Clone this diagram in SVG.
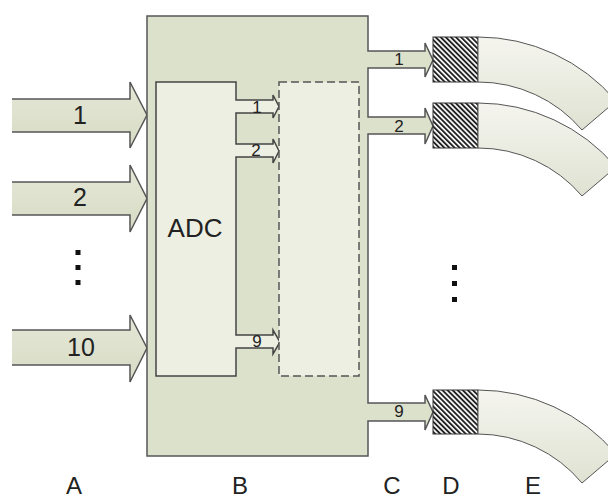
<svg xmlns="http://www.w3.org/2000/svg" width="608" height="499" viewBox="0 0 608 499">
<style>
text{font-family:"Liberation Sans",Arial,sans-serif;fill:#222;text-anchor:middle}
.ln{fill:none;stroke:#555;stroke-width:1.5;stroke-linejoin:miter}
.big{font-size:25px}
.lab{font-size:24px}
.sm{font-size:17px}
.fib{fill:url(#gF);stroke:#555;stroke-width:1}
.hat{fill:url(#hatch);stroke:#333;stroke-width:1}
.dot{fill:#111}
</style>
<defs>
<linearGradient id="gIn" x1="0" y1="0" x2="0" y2="1">
<stop offset="0" stop-color="#e4e7d6"/><stop offset="1" stop-color="#d7dcc5"/>
</linearGradient>
<linearGradient id="gF" x1="0" y1="0" x2="0" y2="1">
<stop offset="0" stop-color="#f5f5ef"/><stop offset="1" stop-color="#dfe2d2"/>
</linearGradient>
<pattern id="hatch" width="3.6" height="3.6" patternUnits="userSpaceOnUse" patternTransform="rotate(-45)">
<rect width="3.6" height="3.6" fill="#fff"/><rect width="1.9" height="3.6" fill="#222"/>
</pattern>
</defs>

<g id="connectors">
<g id="in1">
<path d="M12,99 H130 V82 L147,115 L130,148 V132 H12 Z" fill="url(#gIn)"/>
<path class="ln" d="M12,99 H130 V82 L147,115 L130,148 V132 H12"/>
<text class="big" x="80" y="124">1</text>
</g>
<g id="in2">
<path d="M12,182 H130 V165 L147,198.5 L130,232 V215 H12 Z" fill="url(#gIn)"/>
<path class="ln" d="M12,182 H130 V165 L147,198.5 L130,232 V215 H12"/>
<text class="big" x="80" y="206">2</text>
</g>
<g id="in10">
<path d="M12,330 H130 V315 L147,348 L130,382 V365 H12 Z" fill="url(#gIn)"/>
<path class="ln" d="M12,330 H130 V315 L147,348 L130,382 V365 H12"/>
<text class="big" x="81" y="356">10</text>
</g>
</g>

<g id="dotsA">
<rect class="dot" x="75.5" y="250" width="5" height="5"/>
<rect class="dot" x="75.5" y="265" width="5" height="5"/>
<rect class="dot" x="75.5" y="280" width="5" height="5"/>
</g>

<g id="B">
<path d="M147,16 H368 V51 H425 V43 L433,60 L425,77 V68 H368 V117 H425 V108 L433,126 L425,144 V134 H368 V403 H425 V395 L433,412 L425,430 V421 H368 V456 H147 Z" fill="#dce1cc" stroke="#555" stroke-width="1.5"/>
<text class="sm" x="399" y="65">1</text>
<text class="sm" x="399" y="132">2</text>
<text class="sm" x="399" y="417">9</text>
</g>

<g id="ADC">
<path d="M156,82 H236 V100 H273 V95 L279,106.5 L273,118 V113 H236 V144 H273 V139 L279,151 L273,163 V157 H236 V335 H273 V330 L280,342 L273,354 V348 H236 V376 H156 Z" fill="#eeefe3" stroke="#444" stroke-width="1.5"/>
<text x="195" y="237" style="font-size:26px">ADC</text>
<text class="sm" x="257" y="113">1</text>
<text class="sm" x="256" y="156">2</text>
<text class="sm" x="257" y="347">9</text>
</g>

<g id="C">
<rect x="279" y="82" width="80" height="294" fill="#eeefe3" stroke="#555" stroke-width="1.5" stroke-dasharray="8,4"/>
</g>

<g id="D">
<rect class="hat" x="433" y="37" width="45" height="45"/>
<rect class="hat" x="433" y="103" width="45" height="45"/>
<rect class="hat" x="433" y="390" width="45" height="44"/>
</g>

<g id="E">
<path class="fib" d="M478,37 A181.7,181.7 0 0 1 616,101 L582,130 A136.7,136.7 0 0 0 478,82 Z"/>
<path class="fib" d="M478,103 A181.7,181.7 0 0 1 616,167 L582,196 A136.7,136.7 0 0 0 478,148 Z"/>
<path class="fib" d="M478,390 A181.7,181.7 0 0 1 616,454 L582,483 A136.7,136.7 0 0 0 478,434 Z"/>
</g>

<g id="dotsE">
<rect class="dot" x="452" y="265" width="5" height="5"/>
<rect class="dot" x="452" y="281" width="5" height="5"/>
<rect class="dot" x="452" y="297" width="5" height="5"/>
</g>

<g id="labels">
<text class="lab" x="74" y="494">A</text>
<text class="lab" x="240" y="494">B</text>
<text class="lab" x="392" y="494">C</text>
<text class="lab" x="451" y="494">D</text>
<text class="lab" x="533" y="494">E</text>
</g>
</svg>
